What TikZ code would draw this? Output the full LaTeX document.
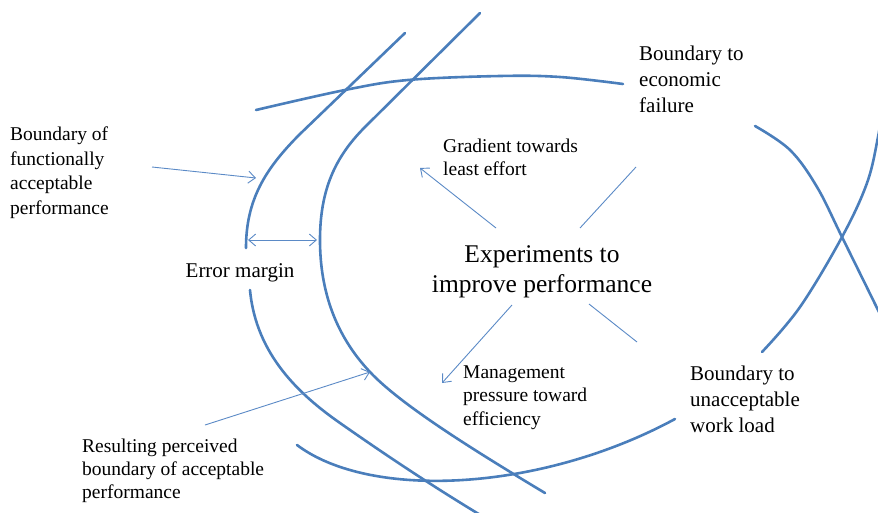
\documentclass[tikz,border=0pt]{standalone}
\usepackage{fontspec}
\setmainfont{Liberation Serif}
\usetikzlibrary{arrows.meta}
\definecolor{curveblue}{HTML}{4A7EBB}
\definecolor{arrowblue}{HTML}{5B8AC6}
\begin{document}
\begin{tikzpicture}[x=1pt,y=-1pt,
  bnd/.style={draw=curveblue,line width=2.6pt,line cap=round},
  thinline/.style={draw=arrowblue,line width=0.9pt},
  tip/.style={-{Straight Barb[length=7pt,width=12pt]}},
  dtip/.style={{Straight Barb[length=7pt,width=12pt]}-{Straight Barb[length=7pt,width=12pt]}},
  lbl/.style={inner sep=0pt,align=left,anchor=base west,text=black}]
\clip (0,0) rectangle (878,512);
% boundary of functionally acceptable performance
\draw[bnd] (405,33) -- (300,134) .. controls (265,169) and (246,200) .. (246,248);
\draw[bnd] (250,290) .. controls (256,355) and (300,395) .. (340,423) .. controls (380,451) and (430,485) .. (492,522);
% perceived boundary
\draw[bnd] (480,13) -- (365,127) .. controls (335,157) and (320,190) .. (320,240)
  .. controls (320,290) and (335,335) .. (370,372) .. controls (400,404) and (470,448) .. (545,493);
% economic failure
\draw[bnd] plot[smooth,tension=0.6] coordinates {(256,110) (345,90) (408,80) (500,76) (560,77) (623,84)};
\draw[bnd] plot[smooth,tension=0.6] coordinates {(755,126) (790,150) (817,187) (842,237) (878,310) (890,335)};
% workload
\draw[bnd] (297,445) .. controls (370,500) and (540,492) .. (675,419);
\draw[bnd] plot[smooth,tension=0.6] coordinates {(762,352) (800,307) (842,237) (867,183) (878,137) (882,110)};
% connectors
\coordinate (fas) at (152,167); \coordinate (fae) at (256,178);
\coordinate (ems) at (248,240); \coordinate (eme) at (317,240);
\coordinate (rps) at (205,425); \coordinate (rpe) at (370,372);
\coordinate (gls) at (496,228); \coordinate (gle) at (420,168);
\coordinate (urs) at (580,228); \coordinate (ure) at (636,167);
\coordinate (mps) at (512,305); \coordinate (mpe) at (442,383);
\coordinate (lrs) at (589,304); \coordinate (lre) at (637,342);
\draw[thinline,tip] (fas) -- (fae);
\draw[thinline,dtip] (ems) -- (eme);
\draw[thinline,tip] (rps) -- (rpe);
\draw[thinline,tip] (gls) -- (gle);
\draw[thinline] (urs) -- (ure);
\draw[thinline,tip] (mps) -- (mpe);
\draw[thinline] (lrs) -- (lre);
% labels (base anchor = baseline of the last line)
\node[lbl,font=\fontsize{19.5}{24.5}\selectfont] (bfa) at (10,214) {Boundary of\\functionally\\acceptable\\performance};
\node[lbl,anchor=base,font=\fontsize{21}{26}\selectfont] (em) at (240,277) {Error margin};
\node[lbl,font=\fontsize{21}{26}\selectfont] (bef) at (639,112) {Boundary to\\economic\\failure};
\node[lbl,font=\fontsize{19.5}{23}\selectfont] (glt) at (443,175) {Gradient towards\\least effort};
\node[lbl,align=center,anchor=base,font=\fontsize{25.5}{30}\selectfont] (exp) at (542,292) {Experiments to\\improve performance};
\node[lbl,font=\fontsize{19.5}{23.5}\selectfont] (mpt) at (463,425) {Management\\pressure toward\\efficiency};
\node[lbl,font=\fontsize{21}{26}\selectfont] (bwl) at (690,432) {Boundary to\\unacceptable\\work load};
\node[lbl,font=\fontsize{19.5}{23}\selectfont] (rpb) at (82,498) {Resulting perceived\\boundary of acceptable\\performance};
\end{tikzpicture}
\end{document}
